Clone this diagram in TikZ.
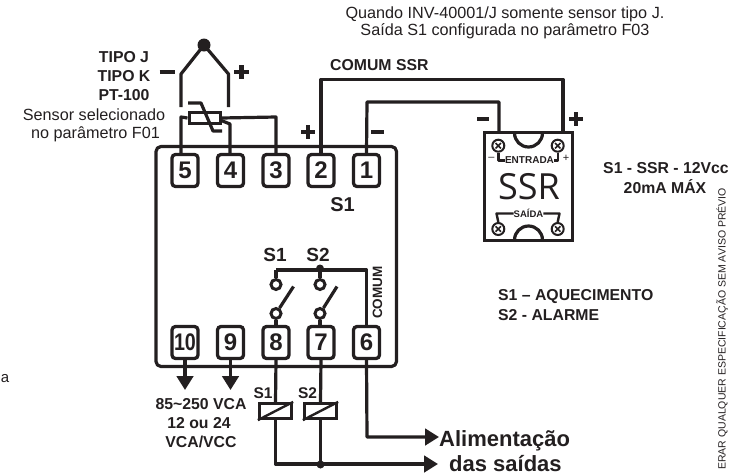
\documentclass[tikz,border=0pt]{standalone}
\usepackage{fontspec}
\setmainfont{Liberation Sans}
\newfontfamily\ssrfont{Open Sans}
\usetikzlibrary{arrows.meta}
\definecolor{ink}{HTML}{231F20}
\tikzset{
 x=1pt,y=-1pt,
 wire/.style={draw=ink,line width=3.2pt,line join=round},
 thin wire/.style={draw=ink,line width=2.4pt,line join=round},
 term/.style={draw=ink,line width=3.3pt,rounded corners=3.5pt,minimum width=26pt,minimum height=32pt,inner sep=0pt,font=\fontsize{24}{24}\bfseries,text=ink},
 lab/.style={inner sep=0pt,align=center,text=ink},
 bl/.style={lab,font=\fontsize{15.8}{18}\bfseries},
 rg/.style={lab,font=\fontsize{16.2}{18}\selectfont},
 sign/.style={draw=ink,line width=4.5pt},
 screw/.style={circle,draw=ink,line width=2pt,fill=white,minimum size=12pt,inner sep=0pt},
 cont/.style={circle,draw=ink,line width=3pt,fill=white,minimum size=10pt,inner sep=0pt},
 relay/.style={draw=ink,line width=3.2pt,fill=white,minimum width=32pt,minimum height=15pt,inner sep=0pt},
 dotn/.style={circle,fill=ink,inner sep=0pt},
 head/.style={-{Triangle[length=14pt,width=16.5pt]}},
}
\begin{document}
\begin{tikzpicture}
\useasboundingbox (0,0) rectangle (737,475);
\clip (0,0) rectangle (737,475);
% device
\draw[wire,rounded corners=5pt] (156,146.5) rectangle (396.5,366.5);
\node[term,fill=white] (t5) at (185,170.5) {5};
\node[term,fill=white] (t4) at (230.5,170.5) {4};
\node[term,fill=white] (t3) at (276,170.5) {3};
\node[term,fill=white] (t2) at (321,170.5) {2};
\node[term,fill=white] (t1) at (366.5,170.5) {1};
\node[term,fill=white] (t10) at (185,342.5) {\scalebox{0.82}[1]{10}};
\node[term,fill=white] (t9) at (230.5,342.5) {9};
\node[term,fill=white] (t8) at (276,342.5) {8};
\node[term,fill=white] (t7) at (321,342.5) {7};
\node[term,fill=white] (t6) at (366.5,342.5) {6};
\node[bl,font=\fontsize{20}{20}\bfseries] (s1top) at (342.5,205) {S1};
% sensor
\node[dotn,minimum size=13pt] (tc) at (204,45) {};
\coordinate (tcl) at (181,74);\coordinate (tcr) at (228.5,74);
\coordinate (tcle) at (181,107);\coordinate (tcre) at (228.5,107);
\draw[wire] (tc.center) -- (tcl) -- (tcle);
\draw[wire] (tc.center) -- (tcr) -- (tcre);
\node[draw=ink,line width=3pt,minimum width=31pt,minimum height=11pt,inner sep=0pt] (rtd) at (204.5,118) {};
\draw[wire] (t5.north -| tcl) -- (181,117) -- (rtd.west);
\draw[wire] (rtd.east) -- (276,117) -- (t3.north);
\draw[wire] (220,120) -- (230,124) -- (230,154);
\draw[wire] (188,103) -- (201,103) -- (213,131) -- (222,131);
\draw[sign] (159.5,72) -- (174.5,72);
\draw[sign] (234,72) -- (249,72) (241.5,65) -- (241.5,79);
\node[bl] (tipoj) at (124,57) {TIPO J};
\node[bl] (tipok) at (124,76) {TIPO K};
\node[bl] (pt) at (124,95) {PT-100};
\node[rg] (sel1) at (94,115) {Sensor selecionado};
\node[rg] (sel2) at (95.5,134) {no parâmetro F01};
% SSR
\node[draw=ink,line width=3pt,minimum width=88pt,minimum height=108pt,inner sep=0pt] (ssr) at (528.7,186.5) {};
\node[inner sep=0pt,font=\ssrfont\fontsize{36}{36}\selectfont,text=ink] (ssrt) at (529,187) {SSR};
\draw[wire] (514.5,133) arc[start angle=180,end angle=0,radius=14];
\draw[wire] (514.5,240) arc[start angle=180,end angle=360,radius=14];
\foreach \n/\x/\y in {a/498.3/145.7,b/557.7/145.7,c/498.3/229,d/557.7/229}{
 \node[screw] (sc\n) at (\x,\y) {};
 \draw[ink,line width=1.6pt] (\x-2.7,\y-2.7) -- (\x+2.7,\y+2.7) (\x-2.7,\y+2.7) -- (\x+2.7,\y-2.7);
}
\node[bl,font=\fontsize{10}{10}\bfseries] (ent) at (529.5,160.5) {ENTRADA};
\node[bl,font=\fontsize{9.5}{10}\bfseries] (sai) at (528.5,213.5) {SAÍDA};
\draw[thin wire] (sca.south) -- (498.3,160.5) -- (ent.west);
\draw[thin wire] (scb.south) -- (557.7,160.5) -- (ent.east);
\draw[thin wire] (scc.north) -- (496.5,213.5) -- (sai.west);
\draw[thin wire] (scd.north) -- (559.5,213.5) -- (sai.east);
\node[rg,font=\fontsize{11}{11}\selectfont] (em) at (491.5,158.5) {--};
\node[rg,font=\fontsize{11}{11}\selectfont] (ep) at (566,158.5) {+};
\draw[wire] (t2.north) -- (321,79.5) -- (563,79.5) -- (563,132);
\draw[wire] (t1.north) -- (367,102) -- (499,102) -- (499,132);
\draw[sign] (301,132) -- (315,132) (308,125) -- (308,139);
\draw[sign] (371,132) -- (384,132);
\draw[sign] (477,119) -- (489,119);
\draw[sign] (569,119) -- (583,119) (576,112) -- (576,126);
\node[bl,anchor=west] (cssr) at (330,65) {COMUM SSR};
\node[rg] (q1) at (505,14) {Quando INV-40001/J somente sensor tipo J.};
\node[rg] (q2) at (505,31) {Saída S1 configurada no parâmetro F03};
\node[bl] (mx1) at (666,168) {S1 - SSR - 12Vcc};
\node[bl] (mx2) at (665,187) {20mA MÁX};
\node[bl,anchor=west] (aq) at (498,297) {S1 – AQUECIMENTO};
\node[bl,anchor=west] (al) at (498,315) {S2 - ALARME};
\node[lab,font=\fontsize{15}{15}\selectfont,anchor=base] (a) at (5,382) {a};
\node[lab,rotate=90,anchor=east,font=\fontsize{10.5}{10.5}\selectfont] (rev) at (722,188) {ERAR QUALQUER ESPECIFICAÇÃO SEM AVISO PRÉVIO};
% contacts
\node[bl,font=\fontsize{19}{19}\bfseries] (ls1) at (275,255) {S1};
\node[bl,font=\fontsize{19}{19}\bfseries] (ls2) at (318,255) {S2};
\coordinate (bl1) at (276,270);\coordinate (bl2) at (320,270);
\draw[wire] (bl1) -- (366.5,270) -- (t6.north);
\node[cont] (c1u) at (276,284.5) {};
\node[cont] (c2u) at (320,284.5) {};
\node[cont] (c1d) at (276,313.5) {};
\node[cont] (c2d) at (320,313.5) {};
\draw[wire] (c1u.north) -- (bl1);
\draw[wire] (c2u.north) -- (bl2);
\node[dotn,minimum size=8pt] (bj) at (320,268.5) {};
\draw[wire] (c1d.south) -- (t8.north);
\draw[wire] (c2d.south) -- (320,325);
\coordinate (b1) at (293.5,286.5);\coordinate (b2) at (337,286.5);
\draw[wire] (c1d) -- (b1);
\draw[wire] (c2d) -- (b2);
\node[lab,rotate=90,font=\fontsize{13.5}{14}\bfseries] (com) at (377.5,292.5) {COMUM};
% supply
\coordinate (a10) at (185,390);\coordinate (a9) at (230.5,390);
\draw[wire,head] (t10.south) -- (a10);
\draw[wire,head] (t9.south) -- (a9);
\node[bl] (v1) at (201,404) {85\textasciitilde250 VCA};
\node[bl] (v2) at (199,423) {12 ou 24};
\node[bl] (v3) at (201,442) {VCA/VCC};
% relays
\node[relay] (r1) at (275.5,411) {};
\node[relay] (r2) at (320.5,411) {};
\draw[wire] (t8.south) -- (r1.north);
\draw[wire] (t7.south) -- (r2.north);
\draw[thin wire] (r1.south west) -- (r1.north east);
\draw[thin wire] (r2.south west) -- (r2.north east);
\node[bl,font=\fontsize{15.5}{15.5}\bfseries] (rs1) at (263,393) {S1};
\node[bl,font=\fontsize{15.5}{15.5}\bfseries] (rs2) at (307.5,393) {S2};
\coordinate (al1) at (439,437);\coordinate (al2) at (438,464);
\draw[wire,head] (t6.south) -- (367,437) -- (al1);
\draw[wire] (r1.south) -- (275.5,464) -- (320.5,464);
\draw[wire] (r2.south) -- (320.5,464);
\draw[wire,head] (320.5,464) -- (al2);
\node[dotn,minimum size=8pt] (bj2) at (320.5,464.5) {};
\node[lab,anchor=base west,font=\fontsize{22}{22}\bfseries] (al3) at (439,446.5) {Alimentação};
\node[lab,anchor=base west,font=\fontsize{22}{22}\bfseries] (al4) at (449,471.5) {das saídas};
\end{tikzpicture}
\end{document}
